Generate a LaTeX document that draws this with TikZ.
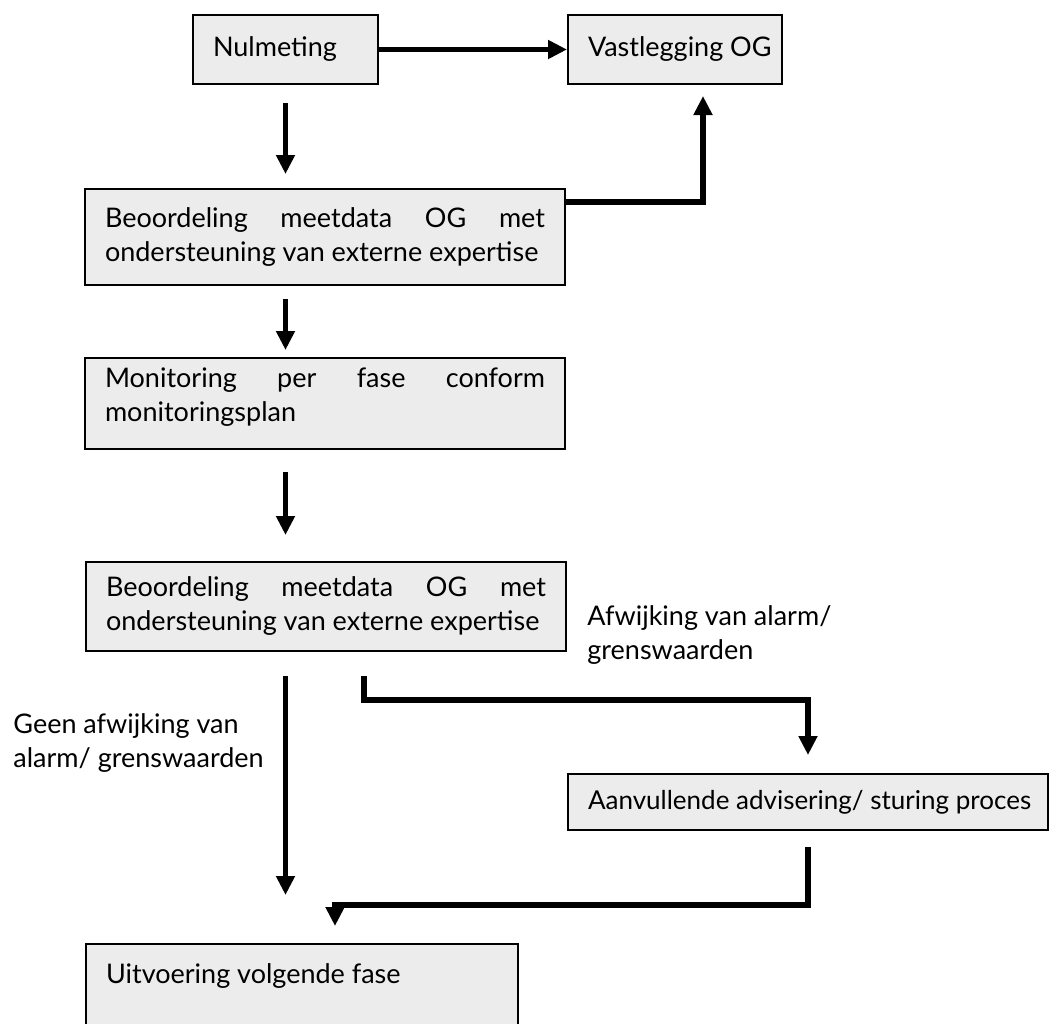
\documentclass[tikz,border=0pt]{standalone}
\usepackage{fontspec}
\setmainfont{Lato}
\usetikzlibrary{arrows.meta}
\definecolor{BoxGray}{HTML}{ECECEC}

\begin{document}
\begin{tikzpicture}[
  x=0.5pt,y=-0.5pt,
  every node/.style={font=\fontsize{13.5pt}{17pt}\selectfont},
  stap/.style={draw=black,line width=1pt,fill=BoxGray,anchor=north west,
    inner xsep=10pt,align=justify},
  uitleg/.style={anchor=north west,inner sep=0pt,align=left},
  arr/.style={-{Triangle[length=9.5pt,width=9pt]},line width=2.8pt}
]
  \useasboundingbox (0,0) rectangle (1051,1024);

  \node[stap,text width=72.5pt,minimum height=34.5pt] (nul) at (192,14) {\mbox{Nulmeting}};
  \node[stap,text width=87pt,minimum height=34.5pt] (vast) at (567,14) {\mbox{Vastlegging OG}};
  \node[stap,text width=220pt,minimum height=48pt] (beo1) at (84,188)
    {Beoordeling meetdata OG met\linebreak \mbox{ondersteuning van externe expertise}};
  \node[stap,text width=220pt,minimum height=45.5pt] (mon) at (84,357)
    {Monitoring per fase conform\linebreak \mbox{monitoringsplan}\rule[-9pt]{0pt}{9pt}};
  \node[stap,text width=220pt,minimum height=44.5pt] (beo2) at (85,561)
    {Beoordeling meetdata OG met\linebreak \mbox{ondersteuning van externe expertise}};
  \node[uitleg] (afw) at (587,605) {Afwijking van alarm/\\grenswaarden};
  \node[uitleg] (geen) at (13,713) {Geen afwijking van\\alarm/ grenswaarden};
  \node[stap,text width=220pt,minimum height=28pt,font=\fontsize{13pt}{17pt}\selectfont]
    (aanv) at (567,773) {\mbox{Aanvullende advisering/ sturing proces}};
  \node[stap,text width=196pt,inner ysep=10pt] (uitv) at (85,943)
    {\mbox{Uitvoering volgende fase}\rule[-45pt]{0pt}{45pt}};

  \draw[arr] (nul) -- (vast);
  \draw[arr,shorten <=9pt,shorten >=7pt] (nul.south) -- (nul.south |- beo1.north);
  \draw[arr,shorten <=6.5pt,shorten >=3.5pt] (beo1.south -| nul.south) -- (mon.north -| nul.south);
  \draw[arr,shorten <=11pt,shorten >=13pt] (mon.south -| nul.south) -- (beo2.north -| nul.south);
  \draw[arr,shorten <=12pt,shorten >=24pt] (beo2.south -| nul.south) -- (uitv.north -| nul.south);
  \draw[arr,shorten >=5.5pt] ([yshift=-7pt]beo1.north east) -| ([xshift=14pt]vast.south);
  \coordinate (afwknik) at (364,700);
  \draw[arr,shorten <=12pt,shorten >=9pt] (beo2.south -| afwknik) -- (afwknik) -| (aanv.north);
  \coordinate (terugknik) at (335,905);
  \draw[arr,shorten <=8pt,shorten >=8.5pt] (aanv.south) |- (terugknik) -- (terugknik |- uitv.north);
\end{tikzpicture}
\end{document}
